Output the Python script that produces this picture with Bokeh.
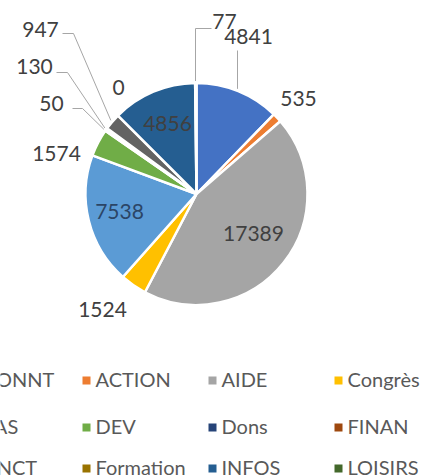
import numpy as np
from bokeh.plotting import figure
from bokeh.models import Range1d
from bokeh.core.properties import value
from bokeh.embed import file_html
from bokeh.resources import INLINE

# ---- data ----
categories = ["ABONNT", "ACTION", "AIDE", "Congrès", "CPAS", "DEV",
              "Dons", "FINAN", "FONCT", "Formation", "INFOS", "LOISIRS"]
values = [4841, 535, 17389, 1524, 7538, 1574, 50, 130, 947, 0, 4856, 77]
colors = ["#4472C4", "#ED7D31", "#A5A5A5", "#FFC000", "#5B9BD5", "#70AD47",
          "#264478", "#9E480E", "#636363", "#997300", "#255E91", "#43682B"]

# ---- layout (page pixel coordinates) ----
W, H = 433, 476
CX, CY, R = 196, 193.5, 111
FONT = "Lato"
LABEL_SIZE = "21px"
LEGEND_SIZE = "20px"

label_pos = {
    "ABONNT": (248, 36), "ACTION": (298, 98), "AIDE": (253, 233),
    "Congrès": (102, 309), "CPAS": (119, 211), "DEV": (56, 153),
    "Dons": (51, 103), "FINAN": (34, 66), "FONCT": (40, 29),
    "Formation": (118, 87), "INFOS": (167, 123), "LOISIRS": (224, 21),
}
label_color = {"CPAS": "#2B4566"}
leader_elbows = {
    "FONCT": [(62, 33), (73, 33)],
    "FINAN": [(56, 72), (67, 72)],
    "Dons": [(72, 108), (82, 108)],
    "LOISIRS": [(211, 28), (195, 28)],
    "ABONNT": [(237, 50)],
}
legend_col_x = [-44, 82, 208, 334]
legend_row_y = [378, 425, 466]


def dy(y):
    return H - y


p = figure(width=W, height=H, output_backend="svg", toolbar_location=None,
           x_range=Range1d(0, W), y_range=Range1d(0, H),
           x_axis_type=None, y_axis_type=None, min_border=0,
           outline_line_color=None, background_fill_color="white",
           border_fill_color="white")
p.grid.visible = False

vals = np.array(values, dtype=float)
frac = vals / vals.sum()
cum = np.concatenate([[0.0], np.cumsum(frac)])
start = np.pi / 2 - 2 * np.pi * cum[:-1]
end = np.pi / 2 - 2 * np.pi * cum[1:]
mid = (start + end) / 2

nz = vals > 0
p.wedge(x=CX, y=dy(CY), radius=R,
        start_angle=list(start[nz]), end_angle=list(end[nz]),
        direction="clock", fill_color=[c for c, k in zip(colors, nz) if k],
        line_color="white", line_width=2.5)

# leader lines
for i, cat in enumerate(categories):
    if cat in leader_elbows:
        pts = list(leader_elbows[cat])
        ex = CX + (R + 2) * np.cos(mid[i])
        ey = CY - (R + 2) * np.sin(mid[i])
        if cat == "LOISIRS":
            ex = pts[-1][0]
        if cat == "ABONNT":
            ex = pts[-1][0]
            ey = CY - np.sqrt(R ** 2 - (ex - CX) ** 2) - 2
        pts.append((ex, ey))
        p.line([q[0] for q in pts], [dy(q[1]) for q in pts],
               line_color="#A6A6A6", line_width=1)

# data labels
for i, cat in enumerate(categories):
    lx, ly = label_pos[cat]
    p.text(x=[lx], y=[dy(ly)], text=[str(values[i])],
           text_font=value(FONT), text_font_size=LABEL_SIZE,
           text_color=label_color.get(cat, "#404040"),
           text_align="center", text_baseline="middle")

# legend
for i, cat in enumerate(categories):
    col, row = i % 4, i // 4
    mx = legend_col_x[col]
    my = legend_row_y[row]
    p.rect(x=[mx + 4], y=[dy(my + 2)], width=8, height=8,
           fill_color=colors[i], line_color=None)
    p.text(x=[mx + 13], y=[dy(my)], text=[cat],
           text_font=value(FONT), text_font_size=LEGEND_SIZE,
           text_color="#595959", text_align="left", text_baseline="middle")

open("out.html", "w").write(file_html(p, INLINE))
